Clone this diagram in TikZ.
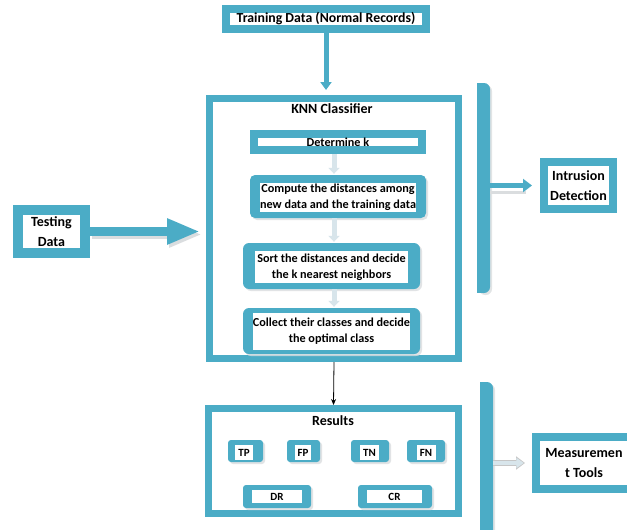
\documentclass[tikz,border=0pt]{standalone}
\usepackage{fontspec}
\setmainfont{Carlito}
\usetikzlibrary{arrows.meta,shadows}
\definecolor{accent}{HTML}{4BACC6}
\definecolor{paleflow}{HTML}{D8E5EB}
\definecolor{softshade}{HTML}{DADDDF}
\begin{document}
\begin{tikzpicture}[x=1pt,y=-1pt,
  every node/.style={font=\bfseries\fontsize{12.2}{16}\selectfont, align=center, inner sep=0pt},
  big/.style={font=\bfseries\fontsize{14}{19.5}\selectfont},
  shade/.style={drop shadow={fill=softshade, opacity=0.8, shadow xshift=2pt, shadow yshift=-2pt}},
  tbox/.style={draw=accent, line width=#1, fill=white, rectangle, shade},
  % rounded teal plate with a sharp white text field on top
  plate/.style={fill=accent, rectangle, rounded corners=#1, shade},
  field/.style={fill=white, rectangle},
  smallfield/.style={field, font=\bfseries\fontsize{11}{12}\selectfont},
  bracketbar/.style={fill=accent, rectangle, rounded corners=6pt, shade},
  steparrow/.style={paleflow, line width=5, -{Triangle[length=6pt, width=11pt]}},
  blockarrow/.style={accent, line width=#1},
]
\useasboundingbox (0,0) rectangle (627,530);
\clip (0,0) rectangle (627,530);

% input data
\node[tbox=8, minimum width=200, minimum height=20, font=\bfseries\fontsize{13.8}{15}\selectfont]
  (train) at (326,19) {Training Data (Normal Records)};
\node[tbox=10, minimum width=67, minimum height=43, big] (test) at (51.5,231.5) {Testing\\Data};

% classifier frame and its steps
\node[tbox=7, minimum width=249, minimum height=260] (knn) at (334,228.5) {};
\node[big] (knntitle) at (332,109) {KNN Classifier};
\node[tbox=8, minimum width=168, minimum height=16] (detk) at (338,142) {Determine k};

\node[plate=5pt, minimum width=176, minimum height=43] (compP) at (338,196.5) {};
\node[field, minimum width=154, minimum height=29] (comp) at (338,197.5)
  {Compute the distances among\\new data and the training data};
\node[plate=6pt, minimum width=177, minimum height=46] (sortP) at (331.5,266) {};
\node[field, minimum width=153, minimum height=32] (sort) at (331.5,267)
  {Sort the distances and decide\\the k nearest neighbors};
\node[plate=6pt, minimum width=177, minimum height=46] (collP) at (331.5,331) {};
\node[field, minimum width=157, minimum height=37] (coll) at (331.5,331.5)
  {Collect their classes and decide\\the optimal class};

\draw[steparrow] (detk.south -| knn.center) -- ([yshift=1pt]compP.north -| knn.center);
\draw[steparrow] (compP.south -| knn.center) -- ([yshift=1pt]sortP.north -| knn.center);
\draw[steparrow] (sortP.south -| knn.center) -- ([yshift=1pt]collP.north -| knn.center);

% results frame
\node[tbox=7, minimum width=250, minimum height=105] (res) at (333.5,461) {};
\node[big] (restitle) at (333,421) {Results};
\node[plate=3pt, minimum width=35, minimum height=22] (tpP) at (245.5,451) {};
\node[smallfield, minimum width=18, minimum height=15] (tp) at (244,452.5) {TP};
\node[plate=3pt, minimum width=33, minimum height=22] (fpP) at (303.5,451) {};
\node[smallfield, minimum width=16, minimum height=15] (fp) at (303,452.5) {FP};
\node[plate=3pt, minimum width=38, minimum height=22] (tnP) at (370,451) {};
\node[smallfield, minimum width=19, minimum height=15] (tn) at (369.5,452.5) {TN};
\node[plate=3pt, minimum width=38, minimum height=22] (fnP) at (426,451) {};
\node[smallfield, minimum width=19, minimum height=15] (fn) at (426,452.5) {FN};
\node[plate=3pt, minimum width=68, minimum height=23] (drP) at (277,496.5) {};
\node[smallfield, minimum width=50, minimum height=13] (dr) at (277,496.5) {DR};
\node[plate=3pt, minimum width=74, minimum height=23] (crP) at (395,496.5) {};
\node[smallfield, minimum width=55, minimum height=13] (cr) at (394.5,496.5) {CR};

% outputs
\node[bracketbar, minimum width=13, minimum height=210] (brk1) at (483.5,188) {};
\fill[accent] (brk1.north west) rectangle (brk1.south);
\node[tbox=8, minimum width=69, minimum height=47, big] (intr) at (578.5,185.5) {Intrusion\\Detection};
\node[bracketbar, minimum width=13, minimum height=170] (brk2) at (486.5,467) {};
\fill[accent] (brk2.north west) rectangle (brk2.south);
\node[tbox=8, minimum width=96, minimum height=52, big] (meas) at (584,463) {Measuremen\\t Tools};

% connectors
\draw[blockarrow=5, -{Triangle[length=8pt, width=11pt]}]
  (train.south) -- ([yshift=5pt]knn.north -| train.south);
\draw[softshade, line width=9, -{Triangle[length=33pt, width=24pt]}]
  ([xshift=2pt,yshift=-3pt]test.east) -- ([xshift=-4pt,yshift=-3pt]knn.west |- test.east);
\draw[blockarrow=9, -{Triangle[length=33pt, width=24pt]}]
  (test.east) -- ([xshift=-6pt]knn.west |- test.east);
\draw[softshade, line width=3] ([yshift=-7pt]brk1.east |- intr.west) -- ([xshift=-14pt,yshift=-7pt]intr.west);
\draw[blockarrow=5, -{Triangle[length=9pt, width=13pt]}]
  (brk1.east |- intr.west) -- ([xshift=-8pt]intr.west);
\draw[-{Stealth[length=6pt, width=5pt]}, line width=0.8] (knn.south) -- (res.north);
\draw[gray!45, line width=6, -{Triangle[length=9pt, width=13pt]}]
  (brk2.east |- meas.west) -- ([xshift=-7pt]meas.west);
\draw[paleflow, line width=3.6, -{Triangle[length=7.5pt, width=10pt]}]
  (brk2.east |- meas.west) -- ([xshift=-8.2pt]meas.west);
\end{tikzpicture}
\end{document}
